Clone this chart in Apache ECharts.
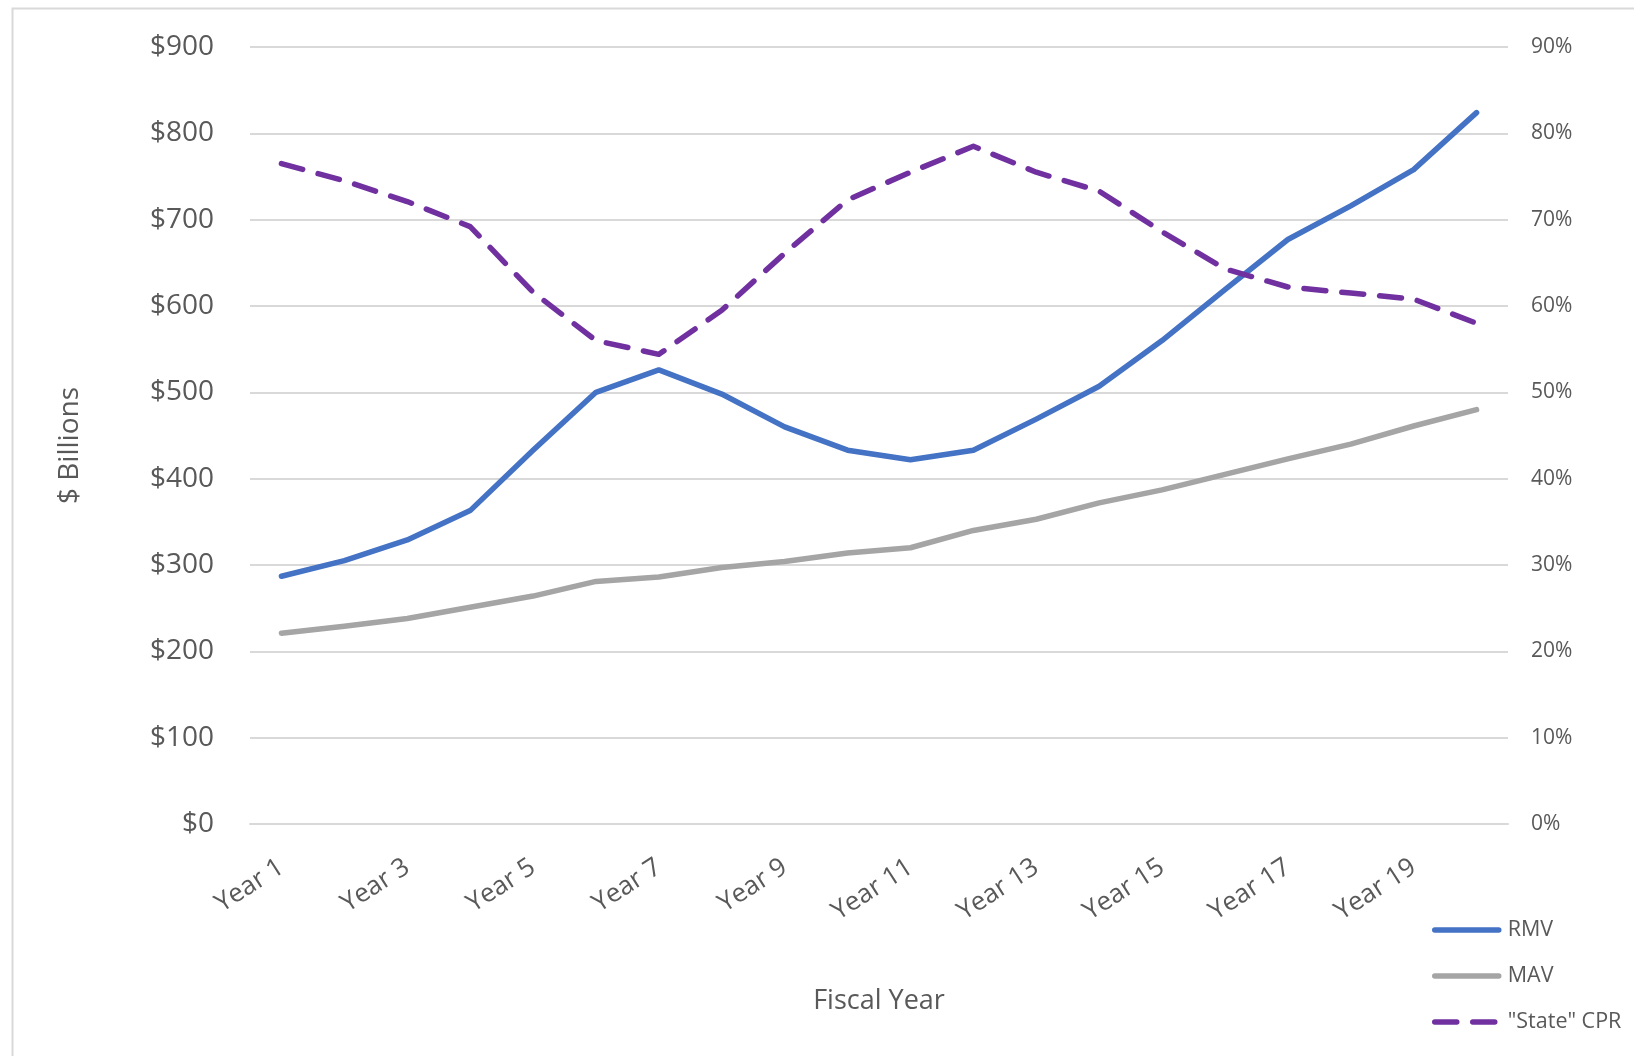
<!DOCTYPE html>
<html>
<head>
<meta charset="utf-8">
<script src="https://cdn.jsdelivr.net/npm/echarts@6/dist/echarts.min.js"></script>
<style>
html,body{margin:0;padding:0;background:#fff;}
#c{width:1634px;height:1056px;}
</style>
</head>
<body>
<div id="c"></div>
<script>
const categories = ['Year 1','Year 2','Year 3','Year 4','Year 5','Year 6','Year 7','Year 8','Year 9','Year 10',
  'Year 11','Year 12','Year 13','Year 14','Year 15','Year 16','Year 17','Year 18','Year 19','Year 20'];
const rmv = [287,305,329,363,433,500,526,498,460,433,422,433,469,507,560,619,677,716,758,824];
const mav = [221,229,238,251,264,281,286,297,304,314,320,340,353,372,387,405,423,440,461,480];
const cpr = [76.5,74.5,72.1,69.2,61.6,56.0,54.4,59.5,66.1,72.3,75.5,78.5,75.5,73.3,68.6,64.3,62.2,61.5,60.8,58.0];

const FONT = '"Open Sans", "Noto Sans", sans-serif';
const TXT = '#595959';
const chart = echarts.init(document.getElementById('c'), null, {renderer:'canvas'});
chart.setOption({
  animation: false,
  backgroundColor: '#fff',
  textStyle: {fontFamily: FONT},
  graphic: [{
    type: 'rect', left: 10, top: 6,
    shape: {width: 1700, height: 1100},
    style: {fill: 'none', stroke: '#d9d9d9', lineWidth: 2},
    silent: true, z: -1
  }],
  grid: {left: 250, right: 126, top: 47, bottom: 232, containLabel: false},
  legend: {
    orient: 'vertical', left: 1427, top: 914,
    itemWidth: 64, itemHeight: 20, itemGap: 24,
    textStyle: {color: TXT, fontSize: 21.5, fontFamily: FONT, padding: [0, 0, 0, 4]},
    itemStyle: {opacity: 0},
    lineStyle: {width: 5.5, cap: 'round'},
    data: ['RMV','MAV','"State" CPR']
  },
  xAxis: {
    type: 'category', data: categories, boundaryGap: true,
    name: 'Fiscal Year', nameLocation: 'middle', nameGap: 164,
    nameTextStyle: {color: TXT, fontSize: 27, fontFamily: FONT},
    axisLine: {show: true, lineStyle: {color: '#d9d9d9', width: 2}},
    axisTick: {show: false},
    axisLabel: {interval: 1, rotate: 33, color: TXT, fontSize: 26, fontFamily: FONT, margin: 41}
  },
  yAxis: [{
    type: 'value', min: 0, max: 900, interval: 100, position: 'left',
    name: '$ Billions', nameLocation: 'middle', nameGap: 166, nameRotate: 90,
    nameTextStyle: {color: TXT, fontSize: 28, fontFamily: FONT, padding: [0, 20, 0, 0]},
    axisLine: {show: false}, axisTick: {show: false},
    axisLabel: {formatter: v => '$' + v, color: TXT, fontSize: 28, fontFamily: FONT, margin: 36},
    splitLine: {lineStyle: {color: '#d9d9d9', width: 2}}
  },{
    type: 'value', min: 0, max: 90, interval: 10, position: 'right',
    axisLine: {show: false}, axisTick: {show: false},
    axisLabel: {formatter: v => v + '%', color: TXT, fontSize: 21, fontFamily: FONT, margin: 23},
    splitLine: {show: false}
  }],
  series: [{
    name: 'RMV', type: 'line', data: rmv, yAxisIndex: 0,
    symbol: 'none', smooth: false,
    itemStyle: {color: '#4472C4'},
    lineStyle: {color: '#4472C4', width: 5.5, cap: 'round', join: 'round'}
  },{
    name: 'MAV', type: 'line', data: mav, yAxisIndex: 0,
    symbol: 'none',
    itemStyle: {color: '#A5A5A5'},
    lineStyle: {color: '#A5A5A5', width: 5.5, cap: 'round', join: 'round'}
  },{
    name: '"State" CPR', type: 'line', data: cpr, yAxisIndex: 1,
    symbol: 'none',
    itemStyle: {color: '#7030A0'},
    lineStyle: {color: '#7030A0', width: 5.5, type: [22, 16], cap: 'round', join: 'round'}
  }]
});
</script>
</body>
</html>
